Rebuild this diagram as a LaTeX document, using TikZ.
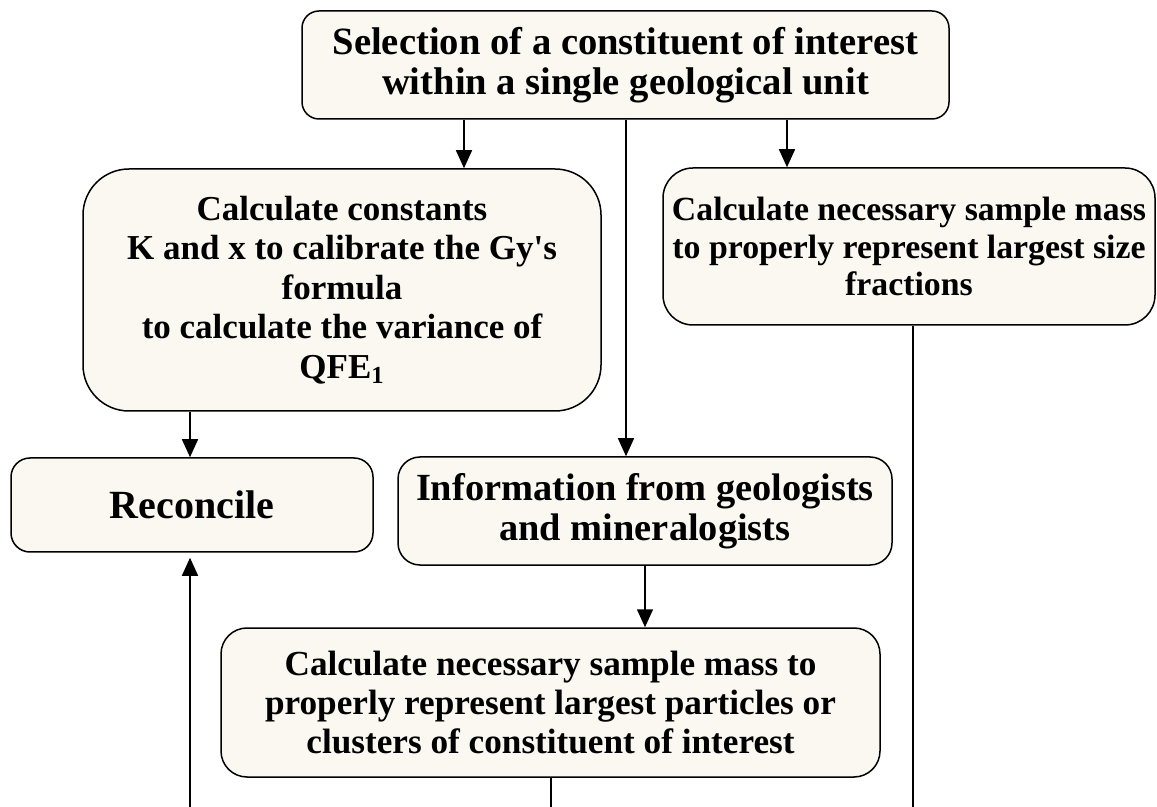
\documentclass[tikz,border=0pt]{standalone}
\usepackage{fontspec}
\setmainfont{Liberation Serif}
\usepackage{tikz}
\usetikzlibrary{arrows.meta}
\definecolor{boxfill}{RGB}{250,248,241}

\begin{document}
\begin{tikzpicture}[x=0.5pt,y=-0.5pt,
  blk/.style={draw, fill=boxfill, line width=0.75pt, align=center, inner sep=0pt},
  arr/.style={-{Triangle[width=8pt,length=9pt]}, line width=0.75pt},
  ln/.style={line width=0.75pt}]
\useasboundingbox (0,0) rectangle (1157,807);
%
\node[blk, rounded corners=8.5pt, minimum width=323.5pt, minimum height=54pt,
  font=\bfseries\fontsize{19.3}{20}\selectfont] (sel) at (625.5,65)
  {Selection of a constituent of interest\\within a single geological unit};
\node[blk, rounded corners=23pt, minimum width=259pt, minimum height=121pt,
  font=\bfseries\fontsize{17.5}{19.8}\selectfont] (gy) at (342,290)
  {Calculate constants\\K and x to calibrate the Gy\textquotesingle s\\formula\\ to calculate the variance of\\QFE\textsubscript{1}};
\node[blk, rounded corners=15pt, minimum width=246pt, minimum height=78.5pt,
  font=\bfseries\fontsize{16.9}{18.6}\selectfont] (rgt) at (909,246.5)
  {Calculate necessary sample mass\\to properly represent largest size\\fractions};
\node[blk, rounded corners=9.5pt, minimum width=181pt, minimum height=47pt,
  font=\bfseries\fontsize{20}{21}\selectfont] (rec) at (192,505) {Reconcile};
\node[blk, rounded corners=11pt, minimum width=247pt, minimum height=54pt,
  font=\bfseries\fontsize{19.2}{20}\selectfont] (info) at (645,511)
  {Information from geologists\\and mineralogists};
\node[blk, rounded corners=13pt, minimum width=329.5pt, minimum height=74.5pt,
  font=\bfseries\fontsize{17.6}{19.5}\selectfont] (calc) at (550.5,702.5)
  {Calculate necessary sample mass to\\properly represent largest particles or\\clusters of constituent of interest};
%
\coordinate (endL) at (190,807);
\coordinate (endM) at (551,807);
\coordinate (endR) at (913,807);
%
\draw[arr] (sel.south -| 464,0) -- (gy.north -| 464,0);
\draw[arr] (sel.south -| 626,0) -- (info.north -| 626,0);
\draw[arr] (sel.south -| 787,0) -- (rgt.north -| 787,0);
\draw[arr] (gy.south -| endL) -- (rec.north -| endL);
\draw[arr] (info.south) -- (calc.north -| info.south);
\draw[arr, shorten >=2.5pt] (endL) -- (rec.south -| endL);
\draw[ln] (calc.south -| endM) -- (endM);
\draw[ln] (rgt.south -| endR) -- (endR);
\end{tikzpicture}
\end{document}
